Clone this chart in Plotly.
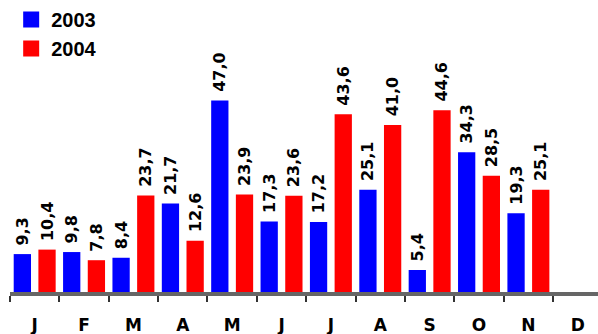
import plotly.graph_objects as go

# Monthly values for the two years (comma shown as the decimal mark)
months = ["J", "F", "M", "A", "M", "J", "J", "A", "S", "O", "N", "D"]
values_2003 = [9.3, 9.8, 8.4, 21.7, 47.0, 17.3, 17.2, 25.1, 5.4, 34.3, 19.3, None]
values_2004 = [10.4, 7.8, 23.7, 12.6, 23.9, 23.6, 43.6, 41.0, 44.6, 28.5, 25.1, None]

series = [("2003", values_2003, "#0000FF"), ("2004", values_2004, "#FF0000")]

# each month occupies one unit on the x axis; bars sit around its centre
x_pos = [i + 0.5 for i in range(len(months))]
boundaries = list(range(len(months)))

fig = go.Figure()
for name, vals, color in series:
    fig.add_trace(go.Bar(
        x=x_pos, y=vals, name=name,
        marker=dict(color=color, line=dict(width=0)),
        texttemplate=" %{y:.1f}", textposition="outside", textangle=-90,
        textfont=dict(family="DejaVu Sans", size=16, color="black", weight="bold"),
        constraintext="none", cliponaxis=False,
        showlegend=False, hoverinfo="skip",
    ))
    # legend swatch for the series
    fig.add_trace(go.Scatter(
        x=[None], y=[None], mode="markers", name=name,
        marker=dict(symbol="square", size=18, color=color, line=dict(width=0)),
    ))

fig.update_layout(
    width=598, height=334,
    margin=dict(l=10, r=0, t=0, b=42),
    paper_bgcolor="white", plot_bgcolor="white",
    barmode="group", bargap=0, bargroupgap=0.3,
    separators=",.",
    showlegend=True,
    legend=dict(
        x=0.002, y=1.012, xanchor="left", yanchor="top",
        itemsizing="trace", tracegroupgap=0,
        bgcolor="rgba(0,0,0,0)", borderwidth=0,
        font=dict(family="Liberation Sans", size=20, color="black", weight="bold"),
    ),
    xaxis=dict(
        range=[0, 11.91],
        tickmode="array", tickvals=x_pos, ticktext=months, ticks="",
        showgrid=False, zeroline=False,
        showline=True, linecolor="#666666", linewidth=4,
        tickfont=dict(family="DejaVu Sans", size=17, color="black", weight="bold"),
        ticklabelstandoff=15,
        minor=dict(tickmode="array", tickvals=boundaries, ticks="outside",
                   ticklen=6, tickwidth=2, tickcolor="#333333", showgrid=False),
        fixedrange=True,
    ),
    yaxis=dict(range=[0, 70.9], visible=False, fixedrange=True),
)

fig.write_html("out.html")
